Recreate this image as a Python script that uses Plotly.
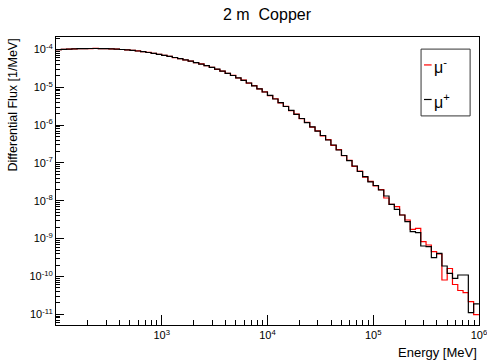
import numpy as np
import plotly.graph_objects as go

# ---- data -------------------------------------------------------------
E_MIN, E_MAX, N_BINS = 1e2, 1e6, 80
edges = list(np.logspace(np.log10(E_MIN), np.log10(E_MAX), N_BINS + 1))

mu_minus = [
    9.95e-5, 1.010e-4, 1.028e-4, 1.040e-4, 1.048e-4, 1.060e-4, 1.058e-4, 1.066e-4,
    1.052e-4, 1.053e-4, 1.034e-4, 1.020e-4, 0.998e-4, 0.979e-4, 0.944e-4, 0.916e-4,
    0.872e-4, 0.836e-4, 0.786e-4, 0.745e-4, 0.695e-4, 0.660e-4, 0.611e-4, 0.574e-4,
    0.528e-4, 0.494e-4, 0.447e-4, 0.414e-4, 0.371e-4, 0.338e-4, 0.299e-4, 0.269e-4,
    0.233e-4, 0.2075e-4, 0.1762e-4, 0.1540e-4, 0.1290e-4, 0.1110e-4, 9.05e-6, 7.62e-6,
    6.05e-6, 4.98e-6, 3.87e-6, 3.16e-6, 2.42e-6, 1.96e-6, 1.48e-6, 1.18e-6,
    8.85e-7, 7.05e-7, 5.22e-7, 4.14e-7, 2.93e-7, 2.26e-7, 1.55e-7, 1.17e-7,
    8.15e-8, 6.12e-8, 4.22e-8, 3.25e-8, 2.48e-8, 1.97e-8, 1.187e-8, 8.09e-9,
    6.99e-9, 4.22e-9, 3.11e-9, 1.767e-9, 1.877e-9, 8.31e-10, 6.79e-10, 4.52e-10,
    3.93e-10, 8.07e-11, 1.625e-10, 6.14e-11, 4.26e-11, 3.72e-11, 2.15e-11, 9.76e-12,
]

mu_plus = [
    9.88e-5, 1.006e-4, 1.025e-4, 1.037e-4, 1.050e-4, 1.056e-4, 1.063e-4, 1.063e-4,
    1.056e-4, 1.050e-4, 1.037e-4, 1.018e-4, 1.000e-4, 0.976e-4, 0.947e-4, 0.913e-4,
    0.875e-4, 0.833e-4, 0.789e-4, 0.742e-4, 0.698e-4, 0.657e-4, 0.614e-4, 0.571e-4,
    0.531e-4, 0.491e-4, 0.450e-4, 0.411e-4, 0.373e-4, 0.336e-4, 0.301e-4, 0.267e-4,
    0.235e-4, 0.2055e-4, 0.1776e-4, 0.1525e-4, 0.1302e-4, 0.1098e-4, 9.14e-6, 7.52e-6,
    6.12e-6, 4.91e-6, 3.92e-6, 3.11e-6, 2.455e-6, 1.925e-6, 1.500e-6, 1.161e-6,
    8.99e-7, 6.92e-7, 5.33e-7, 4.05e-7, 2.99e-7, 2.205e-7, 1.578e-7, 1.149e-7,
    8.32e-8, 5.96e-8, 4.34e-8, 3.18e-8, 2.54e-8, 1.932e-8, 1.341e-8, 8.09e-9,
    5.97e-9, 4.22e-9, 2.806e-9, 1.527e-9, 1.437e-9, 6.39e-10, 6.12e-10, 3.14e-10,
    4.10e-10, 1.892e-10, 1.214e-10, 8.95e-11, 1.094e-10, 1.094e-10, 1.103e-11, 1.895e-11,
]

x_tick_vals = [1e3, 1e4, 1e5, 1e6]
x_tick_text = ["10<sup>3</sup>", "10<sup>4</sup>", "10<sup>5</sup>", "10<sup>6</sup>"]
y_exponents = [-11, -10, -9, -8, -7, -6, -5, -4]
y_tick_vals = [10.0 ** e for e in y_exponents]
y_tick_text = ["10<sup>%d</sup>" % e for e in y_exponents]

title_text = "2 m  Copper"
x_title = "Energy [MeV]"
y_title = "Differential Flux [1/MeV]"
legend_labels = ["μ<sup>-</sup>", "μ<sup>+</sup>"]
colors = ["#ff0000", "#000000"]

# ---- figure -----------------------------------------------------------
FONT = "Liberation Sans, Arial, sans-serif"

def step_xy(vals):
    return edges, list(vals) + [vals[-1]]

fig = go.Figure()
for vals, col in [(mu_minus, colors[0]), (mu_plus, colors[1])]:
    xs, ys = step_xy(vals)
    fig.add_trace(go.Scatter(x=xs, y=ys, mode="lines", line_shape="hv",
                             line=dict(color=col, width=1.2), showlegend=False,
                             hoverinfo="skip"))

minor_x = [m * 10.0 ** d for d in range(2, 6) for m in range(2, 10)]
minor_y = [m * 10.0 ** d for d in range(-12, -3) for m in range(2, 10)]

fig.update_layout(
    width=487, height=363,
    margin=dict(l=56, r=8, t=37, b=38, autoexpand=False),
    paper_bgcolor="white", plot_bgcolor="white",
    font=dict(family=FONT, color="black", size=11),
    xaxis=dict(type="log", range=[2, 6.0008], showline=True, linecolor="black", linewidth=1,
               mirror=True, ticks="inside", ticklen=10, tickcolor="black",
               tickmode="array", tickvals=x_tick_vals, ticktext=x_tick_text,
               ticklabeloverflow="allow", automargin=False,
               showgrid=False, zeroline=False, tickfont=dict(size=11, color="black"),
               minor=dict(tickmode="array", tickvals=minor_x, ticks="inside",
                          ticklen=5, tickcolor="black", showgrid=False)),
    yaxis=dict(type="log", range=[-11.283, -3.670], showline=True, linecolor="black",
               linewidth=1, mirror=True, ticks="inside", ticklen=8, tickcolor="black",
               tickmode="array", tickvals=y_tick_vals, ticktext=y_tick_text,
               automargin=False,
               showgrid=False, zeroline=False, tickfont=dict(size=11, color="black"),
               minor=dict(tickmode="array", tickvals=minor_y, ticks="inside",
                          ticklen=4, tickcolor="black", showgrid=False)),
)

# title & axis titles
fig.add_annotation(text=title_text, xref="paper", yref="paper", x=0.5, y=1.078,
                   xanchor="center", yanchor="middle", showarrow=False,
                   font=dict(size=16, family=FONT))
fig.add_annotation(text=x_title, xref="paper", yref="paper", x=1.0, y=-0.095,
                   xanchor="right", yanchor="middle", showarrow=False,
                   font=dict(size=13, family=FONT))
fig.add_annotation(text=y_title, xref="paper", yref="paper", x=-0.104, y=1.0,
                   xanchor="center", yanchor="top", textangle=-90, showarrow=False,
                   font=dict(size=12.5, family=FONT))

# legend box (ROOT style)
fig.add_shape(type="rect", xref="paper", yref="paper", x0=0.863, x1=0.979,
              y0=0.726, y1=0.958, line=dict(color="#333333", width=1),
              fillcolor="white", layer="above")
for i, (lab, col) in enumerate(zip(legend_labels, colors)):
    yp = [0.903, 0.783][i]
    fig.add_shape(type="line", xref="paper", yref="paper", x0=0.870, x1=0.888,
                  y0=yp, y1=yp, line=dict(color=col, width=1.2), layer="above")
    fig.add_annotation(text=lab, xref="paper", yref="paper", x=0.889, y=yp - 0.005,
                       xanchor="left", yanchor="middle", showarrow=False,
                       font=dict(size=16, family=FONT))

fig.write_html("out.html")
